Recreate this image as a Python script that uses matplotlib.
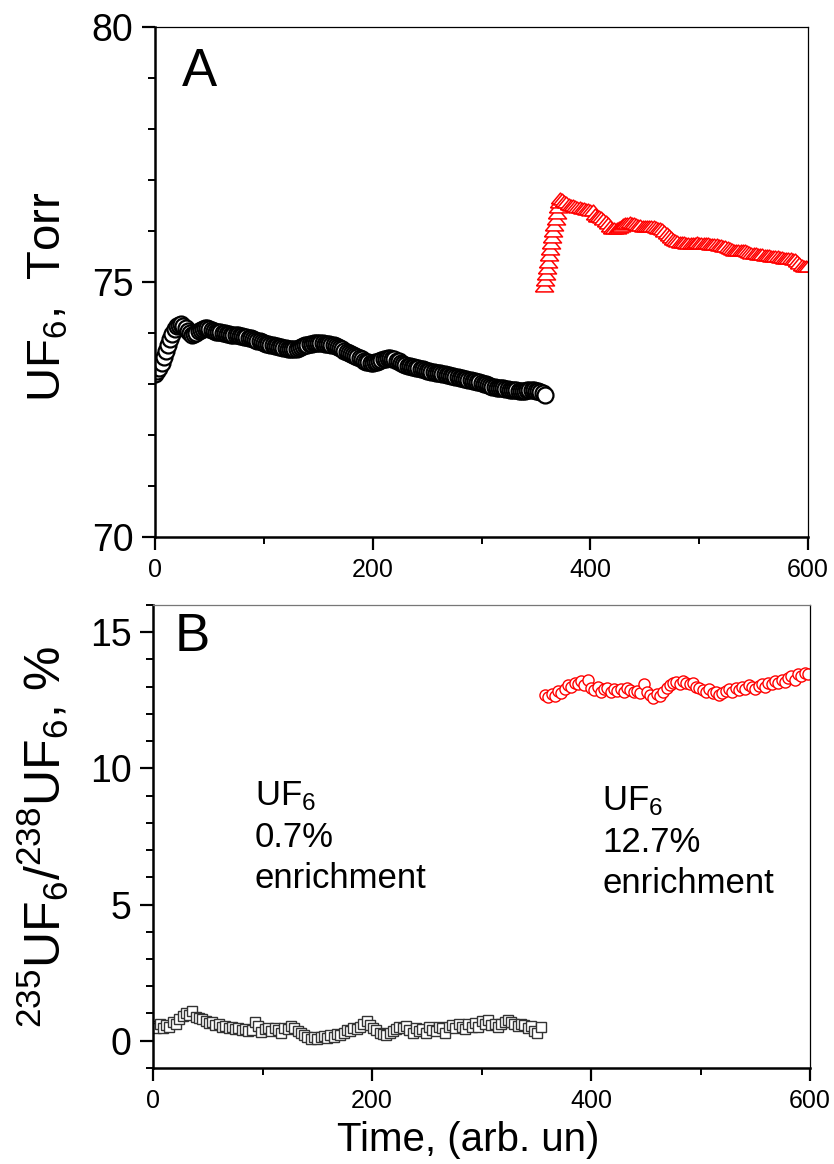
"""Two-panel UF6 pressure / enrichment time trace."""

import matplotlib

matplotlib.use("Agg")
import matplotlib.pyplot as plt
from matplotlib.ticker import MultipleLocator

plt.rcParams["font.family"] = ["Liberation Sans", "DejaVu Sans"]
plt.rcParams["mathtext.fontset"] = "custom"
plt.rcParams["mathtext.rm"] = "Liberation Sans"
plt.rcParams["mathtext.it"] = "Liberation Sans:italic"
plt.rcParams["mathtext.bf"] = "Liberation Sans:bold"

# panel A: pressure, natural sample (black circles), every 2 time units
time_a_nat = list(range(0, 359, 2))
torr_nat = [
    73.19, 73.25, 73.32, 73.42, 73.52, 73.64, 73.76, 73.88, 73.98, 74.07,
    74.13, 74.16, 74.17, 74.14, 74.09, 74.03, 73.99, 73.97, 73.98, 74.00,
    74.03, 74.06, 74.08, 74.09, 74.09, 74.07, 74.05, 74.03, 74.02, 74.01,
    74.01, 74.00, 73.99, 73.98, 73.98, 73.97, 73.97, 73.96, 73.96, 73.95,
    73.95, 73.93, 73.92, 73.91, 73.90, 73.88, 73.87, 73.85, 73.84, 73.82,
    73.80, 73.79, 73.78, 73.77, 73.76, 73.75, 73.74, 73.73, 73.72, 73.71,
    73.70, 73.69, 73.69, 73.68, 73.68, 73.69, 73.70, 73.72, 73.74, 73.76,
    73.77, 73.78, 73.79, 73.80, 73.80, 73.81, 73.80, 73.80, 73.79, 73.79,
    73.78, 73.77, 73.76, 73.75, 73.73, 73.70, 73.68, 73.65, 73.62, 73.60,
    73.58, 73.56, 73.55, 73.52, 73.50, 73.48, 73.46, 73.44, 73.43, 73.42,
    73.42, 73.43, 73.44, 73.46, 73.47, 73.48, 73.49, 73.50, 73.50, 73.49,
    73.48, 73.46, 73.45, 73.42, 73.40, 73.38, 73.36, 73.35, 73.34, 73.33,
    73.32, 73.31, 73.30, 73.29, 73.28, 73.26, 73.25, 73.24, 73.23, 73.22,
    73.22, 73.21, 73.20, 73.19, 73.18, 73.17, 73.16, 73.15, 73.14, 73.13,
    73.12, 73.11, 73.10, 73.09, 73.08, 73.07, 73.06, 73.05, 73.04, 73.03,
    73.02, 73.00, 72.99, 72.97, 72.96, 72.95, 72.94, 72.93, 72.93, 72.92,
    72.92, 72.91, 72.90, 72.89, 72.89, 72.88, 72.88, 72.87, 72.87, 72.87,
    72.87, 72.88, 72.88, 72.88, 72.88, 72.87, 72.86, 72.84, 72.82, 72.78,
]

# panel A: pressure, enriched sample (red triangles)
time_a_enr = list(range(357, 373)) + list(range(374, 601, 2))
torr_enr = [
    74.92, 75.04, 75.16, 75.28, 75.40, 75.52, 75.64, 75.76, 75.88, 76.00,
    76.12, 76.24, 76.36, 76.47, 76.57, 76.64,
    76.62, 76.59, 76.56, 76.53, 76.51, 76.50, 76.49, 76.48, 76.47, 76.46,
    76.45, 76.44, 76.43, 76.42, 76.41, 76.33, 76.30, 76.29, 76.27, 76.24,
    76.20, 76.15, 76.10, 76.06, 76.05, 76.06, 76.08, 76.10, 76.13, 76.15,
    76.16, 76.17, 76.16, 76.15, 76.14, 76.12, 76.11, 76.10, 76.10, 76.10,
    76.10, 76.10, 76.09, 76.08, 76.06, 76.05, 76.03, 76.00, 75.96, 75.92,
    75.88, 75.84, 75.82, 75.80, 75.79, 75.78, 75.78, 75.77, 75.77, 75.77,
    75.77, 75.77, 75.78, 75.77, 75.77, 75.76, 75.76, 75.76, 75.75, 75.75,
    75.74, 75.74, 75.73, 75.72, 75.71, 75.70, 75.68, 75.66, 75.64, 75.63,
    75.62, 75.62, 75.63, 75.63, 75.62, 75.60, 75.58, 75.57, 75.56, 75.56,
    75.55, 75.55, 75.54, 75.53, 75.53, 75.52, 75.51, 75.50, 75.50, 75.50,
    75.49, 75.49, 75.48, 75.48, 75.47, 75.47, 75.46, 75.45, 75.42, 75.38,
    75.34, 75.32, 75.32, 75.31,
]

# panel B: isotope ratio, natural sample (black squares), every 3 time units
time_b_nat = list(range(0, 355, 3))
ratio_nat = [
    0.55, 0.48, 0.62, 0.45, 0.58, 0.52, 0.68, 0.62, 0.80, 0.90,
    1.02, 0.95, 1.08, 0.88, 0.85, 0.78, 0.72, 0.65, 0.70, 0.58,
    0.62, 0.50, 0.55, 0.45, 0.50, 0.42, 0.48, 0.38, 0.42, 0.35,
    0.38, 0.70, 0.55, 0.32, 0.42, 0.48, 0.35, 0.45, 0.40, 0.30,
    0.48, 0.42, 0.55, 0.45, 0.35, 0.28, 0.20, 0.15, 0.08, 0.15,
    0.05, 0.12, 0.18, 0.10, 0.20, 0.15, 0.25, 0.22, 0.30, 0.38,
    0.35, 0.45, 0.42, 0.50, 0.62, 0.72, 0.58, 0.48, 0.40, 0.30,
    0.25, 0.20, 0.28, 0.35, 0.42, 0.50, 0.45, 0.55, 0.38, 0.30,
    0.45, 0.35, 0.42, 0.30, 0.50, 0.40, 0.35, 0.52, 0.45, 0.30,
    0.50, 0.58, 0.45, 0.60, 0.50, 0.42, 0.60, 0.52, 0.65, 0.50,
    0.72, 0.62, 0.75, 0.58, 0.62, 0.50, 0.60, 0.70, 0.75, 0.68,
    0.60, 0.55, 0.62, 0.58, 0.48, 0.55, 0.35, 0.30, 0.52,
]

# panel B: isotope ratio, enriched sample (red circles)
time_b_enr = list(range(358, 599, 3))
ratio_enr = [
    12.70, 12.62, 12.72, 12.65, 12.85, 12.78, 12.92, 13.05, 13.00, 13.15,
    13.10, 13.20, 13.05, 13.25, 12.95, 12.88, 13.00, 12.82, 12.90, 12.95,
    12.80, 12.90, 12.85, 12.92, 12.80, 12.95, 12.88, 12.80, 12.85, 12.75,
    13.10, 12.82, 12.70, 12.60, 12.72, 12.65, 12.80, 12.95, 13.05, 13.12,
    13.18, 13.10, 13.20, 13.15, 13.08, 13.12, 13.00, 12.95, 12.88, 12.82,
    12.90, 12.75, 12.80, 12.70, 12.78, 12.85, 12.90, 12.82, 12.95, 12.88,
    13.00, 12.92, 13.05, 12.98, 12.90, 13.02, 13.10, 13.00, 13.15, 13.08,
    13.20, 13.12, 13.25, 13.18, 13.30, 13.38, 13.25, 13.45, 13.40, 13.50,
    13.45,
]

note_nat = "UF$_6$\n0.7%\nenrichment"
note_enr = "UF$_6$\n12.7%\nenrichment"


def style_axis(ax):
    for side in ("left", "bottom"):
        ax.spines[side].set_linewidth(1.8)
    for side in ("top", "right"):
        ax.spines[side].set_linewidth(0.9)
    ax.tick_params(which="major", direction="out", length=9.5, width=1.6)
    ax.tick_params(which="minor", direction="out", length=5, width=1.4)
    ax.tick_params(axis="x", labelsize=18, pad=6)
    ax.tick_params(axis="y", labelsize=27, pad=6)
    ax.xaxis.set_major_locator(MultipleLocator(200))
    ax.xaxis.set_minor_locator(MultipleLocator(100))
    ax.set_xlim(0, 600)


# flattened open triangle like the original software draws
flat_triangle = [(-1.0, -0.6), (1.0, -0.6), (0.0, 0.6), (-1.0, -0.6)]

fig = plt.figure(figsize=(8.34, 11.64), dpi=100)
ax_a = fig.add_axes([0.1859, 0.5387, 0.783, 0.4381])
ax_b = fig.add_axes([0.1835, 0.0825, 0.7878, 0.3978])

ax_a.plot(time_a_nat, torr_nat, ls="none", marker="o", ms=11.5, mfc="white", mec="black", mew=1.6)
ax_a.plot(time_a_enr, torr_enr, ls="none", marker=flat_triangle, ms=13, mfc="white", mec="red", mew=1.1)
style_axis(ax_a)
ax_a.set_ylim(70, 80)
ax_a.yaxis.set_major_locator(MultipleLocator(5))
ax_a.yaxis.set_minor_locator(MultipleLocator(1))
ax_a.set_ylabel("UF$_6$,  Torr", fontsize=34)
ax_a.yaxis.set_label_coords(-0.13, 0.47)
ax_a.text(0.041, 0.885, "A", transform=ax_a.transAxes, fontsize=38)

ax_b.plot(time_b_nat, ratio_nat, ls="none", marker="s", ms=6.5, mfc="white", mec="#333333", mew=1.0)
ax_b.plot(time_b_enr, ratio_enr, ls="none", marker="o", ms=8, mfc="white", mec="red", mew=1.0)
style_axis(ax_b)
ax_b.spines["top"].set_color("#777777")
ax_b.set_ylim(-1, 16)
ax_b.yaxis.set_major_locator(MultipleLocator(5))
ax_b.yaxis.set_minor_locator(MultipleLocator(1))
ax_b.set_ylabel("$^{235}$UF$_6$/$^{238}$UF$_6$, %", fontsize=36)
ax_b.yaxis.set_label_coords(-0.125, 0.5)
ax_b.set_xlabel("Time, (arb. un)", fontsize=29)
ax_b.xaxis.set_label_coords(0.479, -0.115)
ax_b.text(0.033, 0.9, "B", transform=ax_b.transAxes, fontsize=38)
ax_b.text(93, 9.6, note_nat, fontsize=25, va="top", linespacing=1.3)
ax_b.text(410, 9.4, note_enr, fontsize=25, va="top", linespacing=1.3)

fig.savefig("out.png", dpi=100)
